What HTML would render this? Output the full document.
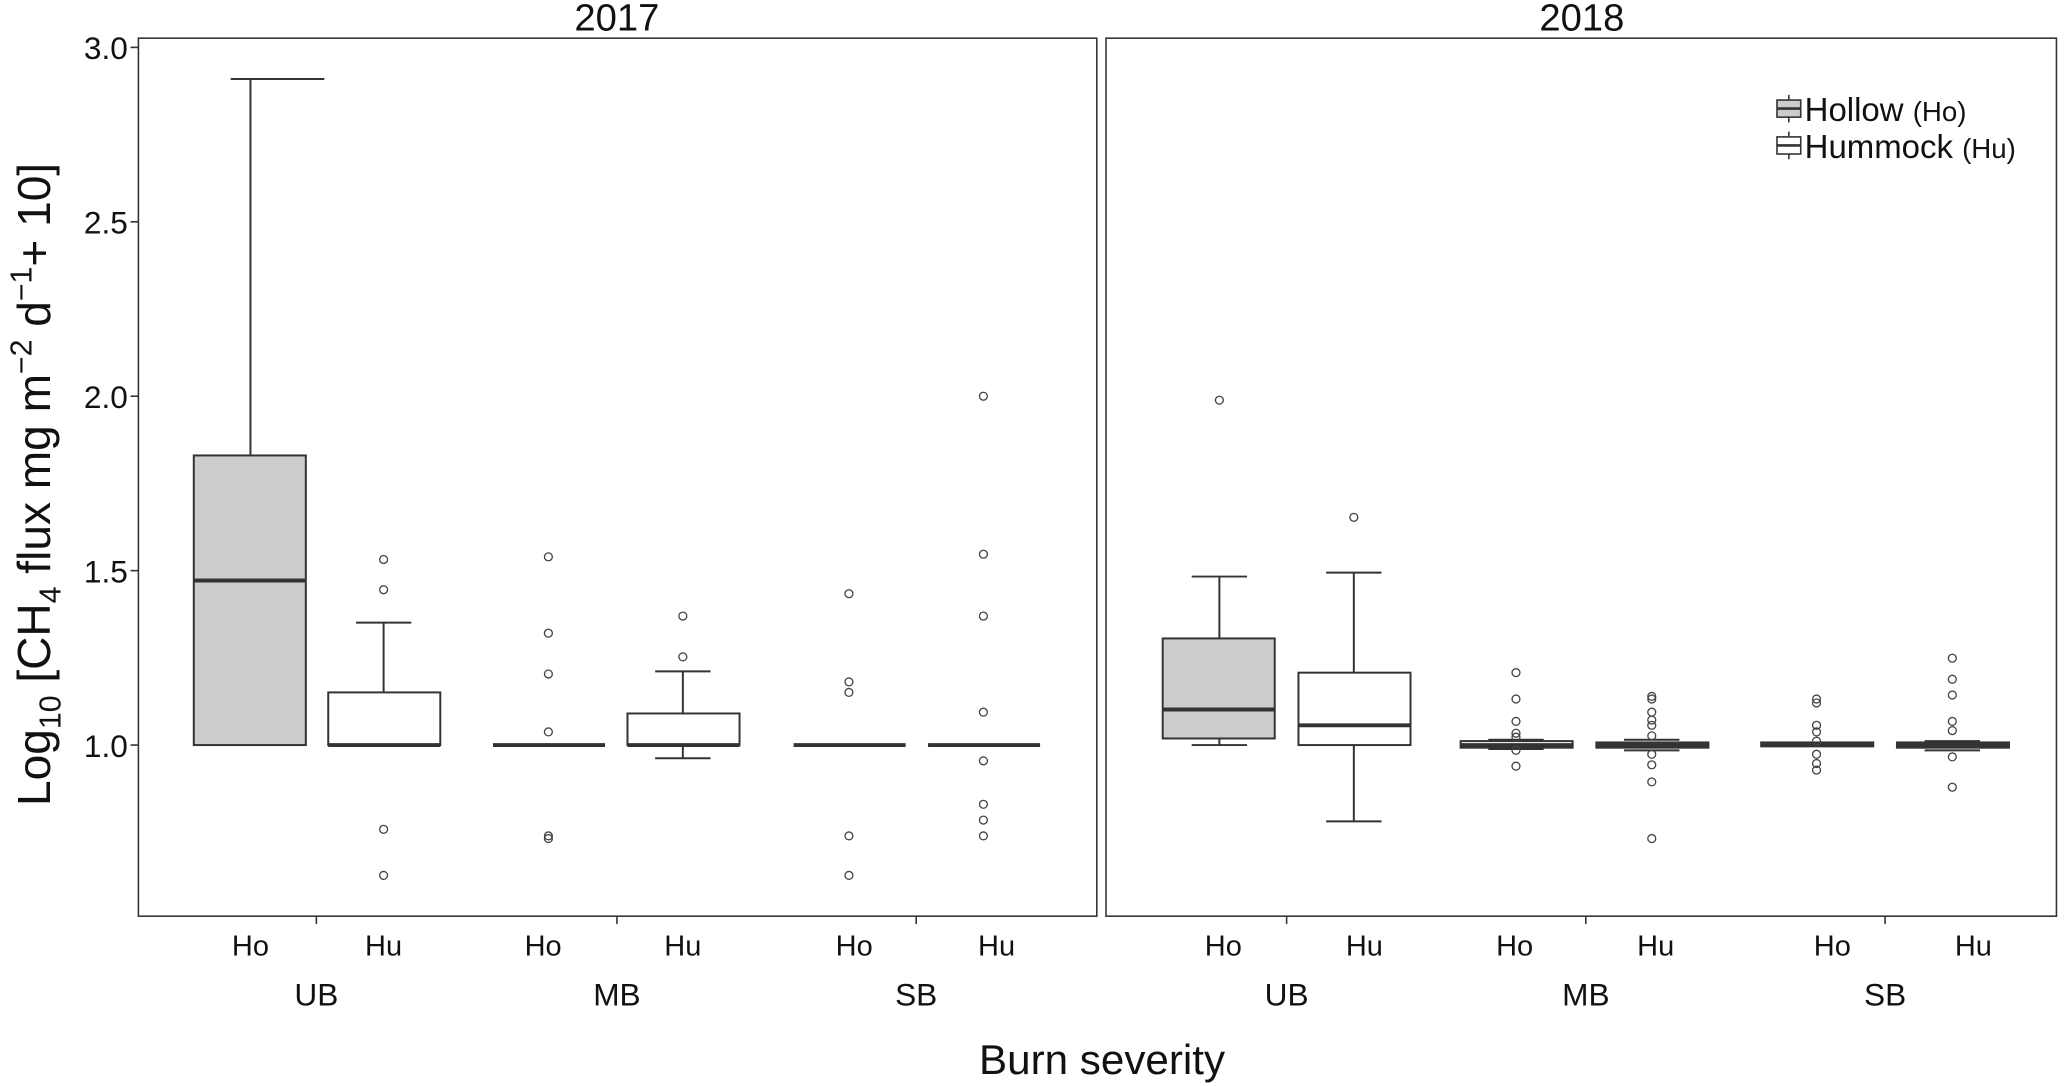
<!DOCTYPE html>
<html><head><meta charset="utf-8"><style>html,body{margin:0;padding:0;background:#fff}svg{display:block}</style></head><body>
<svg width="2067" height="1086" viewBox="0 0 1568 825" preserveAspectRatio="none" xmlns="http://www.w3.org/2000/svg" font-family="Liberation Sans, Arial, sans-serif">
<rect width="1568" height="825" fill="#fff"/>
<rect x="105" y="29" width="727" height="667" fill="none" stroke="#333" stroke-width="1.2"/>
<rect x="839" y="29" width="721" height="667" fill="none" stroke="#333" stroke-width="1.2"/>
<text x="468" y="23" font-size="29" text-anchor="middle" fill="#111">2017</text>
<text x="1200" y="23" font-size="29" text-anchor="middle" fill="#111">2018</text>
<g stroke="#333" stroke-width="1.2">
<line x1="99" y1="36" x2="105" y2="36"/><line x1="99" y1="168.5" x2="105" y2="168.5"/><line x1="99" y1="301" x2="105" y2="301"/><line x1="99" y1="433.5" x2="105" y2="433.5"/><line x1="99" y1="566" x2="105" y2="566"/>
<line x1="240" y1="696" x2="240" y2="702"/><line x1="468" y1="696" x2="468" y2="702"/><line x1="695" y1="696" x2="695" y2="702"/>
<line x1="976" y1="696" x2="976" y2="702"/><line x1="1203" y1="696" x2="1203" y2="702"/><line x1="1430" y1="696" x2="1430" y2="702"/>
</g>
<g font-size="24" text-anchor="end" fill="#111">
<text x="97" y="45">3.0</text><text x="97" y="177.5">2.5</text><text x="97" y="310">2.0</text><text x="97" y="442.5">1.5</text><text x="97" y="575">1.0</text>
</g>
<text transform="translate(38,368) rotate(-90)" font-size="35" text-anchor="middle" fill="#111">Log<tspan font-size="23" dy="8">10</tspan><tspan dy="-8"> [CH</tspan><tspan font-size="23" dy="8">4</tspan><tspan dy="-8"> flux mg  m</tspan><tspan font-size="23" dy="-14">−2</tspan><tspan dy="14"> d</tspan><tspan font-size="23" dy="-14">−1</tspan><tspan dy="14">+ 10]</tspan></text>
<g font-size="22" text-anchor="middle" fill="#111">
<text x="190" y="726">Ho</text><text x="291" y="726">Hu</text><text x="412" y="726">Ho</text><text x="518" y="726">Hu</text><text x="648" y="726">Ho</text><text x="756" y="726">Hu</text>
<text x="928" y="726">Ho</text><text x="1035" y="726">Hu</text><text x="1149" y="726">Ho</text><text x="1256" y="726">Hu</text><text x="1390" y="726">Ho</text><text x="1497" y="726">Hu</text>
</g>
<g font-size="24" text-anchor="middle" fill="#111">
<text x="240" y="764">UB</text><text x="468" y="764">MB</text><text x="695" y="764">SB</text>
<text x="976" y="764">UB</text><text x="1203" y="764">MB</text><text x="1430" y="764">SB</text>
</g>
<text x="836" y="816" font-size="32" text-anchor="middle" fill="#111">Burn severity</text>
<g stroke="#333" stroke-width="1.5" fill="#fff">
<line x1="190" y1="60" x2="190" y2="346"/><line x1="175" y1="60" x2="246" y2="60"/>
<rect x="147" y="346" width="85" height="220" fill="#cccccc"/><line x1="147" y1="441" x2="232" y2="441" stroke-width="3"/>
<line x1="291" y1="473" x2="291" y2="526"/><line x1="270" y1="473" x2="312" y2="473"/>
<rect x="249" y="526" width="85" height="40"/><line x1="249" y1="566" x2="334" y2="566" stroke-width="3"/>
<line x1="374" y1="566" x2="459" y2="566" stroke-width="3"/>
<line x1="518" y1="510" x2="518" y2="542"/><line x1="497" y1="510" x2="539" y2="510"/>
<line x1="518" y1="566" x2="518" y2="576"/><line x1="497" y1="576" x2="539" y2="576"/>
<rect x="476" y="542" width="85" height="24"/><line x1="476" y1="566" x2="561" y2="566" stroke-width="3"/>
<line x1="602" y1="566" x2="687" y2="566" stroke-width="3"/>
<line x1="704" y1="566" x2="789" y2="566" stroke-width="3"/>
<line x1="925" y1="438" x2="925" y2="485"/><line x1="904" y1="438" x2="946" y2="438"/>
<line x1="925" y1="561" x2="925" y2="566"/><line x1="904" y1="566" x2="946" y2="566"/>
<rect x="882" y="485" width="85" height="76" fill="#cccccc"/><line x1="882" y1="539" x2="967" y2="539" stroke-width="3"/>
<line x1="1027" y1="435" x2="1027" y2="511"/><line x1="1006" y1="435" x2="1048" y2="435"/>
<line x1="1027" y1="566" x2="1027" y2="624"/><line x1="1006" y1="624" x2="1048" y2="624"/>
<rect x="985" y="511" width="85" height="55"/><line x1="985" y1="551" x2="1070" y2="551" stroke-width="3"/>
<line x1="1129" y1="562" x2="1171" y2="562"/><line x1="1129" y1="569" x2="1171" y2="569"/>
<rect x="1108" y="563" width="85" height="5"/><line x1="1108" y1="566" x2="1193" y2="566" stroke-width="3"/>
<line x1="1232" y1="562" x2="1274" y2="562"/><line x1="1232" y1="570" x2="1274" y2="570"/>
<rect x="1211" y="564" width="85" height="4"/><line x1="1211" y1="566" x2="1296" y2="566" stroke-width="3"/>
<rect x="1336" y="564" width="85" height="3"/><line x1="1336" y1="566" x2="1421" y2="566" stroke-width="3"/>
<line x1="1460" y1="563" x2="1502" y2="563"/><line x1="1460" y1="570" x2="1502" y2="570"/>
<rect x="1439" y="564" width="85" height="4"/><line x1="1439" y1="566" x2="1524" y2="566" stroke-width="3"/>
</g>
<g fill="none" stroke="#444" stroke-width="1">
<circle cx="291" cy="425" r="3"/><circle cx="291" cy="448" r="3"/><circle cx="291" cy="630" r="3"/><circle cx="291" cy="665" r="3"/>
<circle cx="416" cy="423" r="3"/><circle cx="416" cy="481" r="3"/><circle cx="416" cy="512" r="3"/><circle cx="416" cy="556" r="3"/><circle cx="416" cy="635" r="3"/><circle cx="416" cy="637" r="3"/>
<circle cx="518" cy="468" r="3"/><circle cx="518" cy="499" r="3"/>
<circle cx="644" cy="451" r="3"/><circle cx="644" cy="518" r="3"/><circle cx="644" cy="526" r="3"/><circle cx="644" cy="635" r="3"/><circle cx="644" cy="665" r="3"/>
<circle cx="746" cy="301" r="3"/><circle cx="746" cy="421" r="3"/><circle cx="746" cy="468" r="3"/><circle cx="746" cy="541" r="3"/><circle cx="746" cy="578" r="3"/><circle cx="746" cy="611" r="3"/><circle cx="746" cy="623" r="3"/><circle cx="746" cy="635" r="3"/>
<circle cx="925" cy="304" r="3"/><circle cx="1027" cy="393" r="3"/>
<circle cx="1150" cy="511" r="3"/><circle cx="1150" cy="531" r="3"/><circle cx="1150" cy="548" r="3"/><circle cx="1150" cy="557" r="3"/><circle cx="1150" cy="560" r="3"/><circle cx="1150" cy="570" r="3"/><circle cx="1150" cy="582" r="3"/>
<circle cx="1253" cy="529" r="3"/><circle cx="1253" cy="531" r="3"/><circle cx="1253" cy="541" r="3"/><circle cx="1253" cy="547" r="3"/><circle cx="1253" cy="551" r="3"/><circle cx="1253" cy="559" r="3"/><circle cx="1253" cy="573" r="3"/><circle cx="1253" cy="581" r="3"/><circle cx="1253" cy="594" r="3"/><circle cx="1253" cy="637" r="3"/>
<circle cx="1378" cy="531" r="3"/><circle cx="1378" cy="534" r="3"/><circle cx="1378" cy="551" r="3"/><circle cx="1378" cy="556" r="3"/><circle cx="1378" cy="563" r="3"/><circle cx="1378" cy="573" r="3"/><circle cx="1378" cy="580" r="3"/><circle cx="1378" cy="585" r="3"/>
<circle cx="1481" cy="500" r="3"/><circle cx="1481" cy="516" r="3"/><circle cx="1481" cy="528" r="3"/><circle cx="1481" cy="548" r="3"/><circle cx="1481" cy="555" r="3"/><circle cx="1481" cy="575" r="3"/><circle cx="1481" cy="598" r="3"/>
</g>
<g stroke="#333" stroke-width="1.2">
<line x1="1357" y1="72" x2="1357" y2="93"/><rect x="1348" y="76" width="18" height="13" fill="#cccccc"/><line x1="1348" y1="82.5" x2="1366" y2="82.5" stroke-width="2"/>
<line x1="1357" y1="100" x2="1357" y2="121"/><rect x="1348" y="104" width="18" height="13" fill="#fff"/><line x1="1348" y1="110.5" x2="1366" y2="110.5" stroke-width="2"/>
</g>
<text x="1369" y="92" font-size="25" fill="#111">Hollow <tspan font-size="21">(Ho)</tspan></text>
<text x="1369" y="120" font-size="25" fill="#111">Hummock <tspan font-size="21">(Hu)</tspan></text>
</svg>
</body></html>
